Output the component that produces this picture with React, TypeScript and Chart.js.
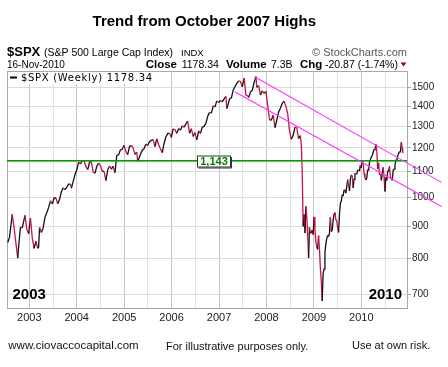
import React, { useEffect, useRef } from "react";
import { Chart, registerables } from "chart.js";

Chart.register(...registerables);

// ---- data (weekly / bi-weekly closes of $SPX) ----
const dates: string[] = [
  "2002-07-19","2002-08-02","2002-08-23","2002-09-06","2002-09-20","2002-10-04","2002-10-11","2002-10-25","2002-11-08","2002-11-29","2002-12-13","2002-12-27",
  "2003-01-10","2003-01-24","2003-02-07","2003-02-21","2003-03-07","2003-03-14","2003-03-21","2003-04-04","2003-04-17","2003-05-02","2003-05-16","2003-05-30","2003-06-13","2003-06-27","2003-07-11","2003-07-25","2003-08-08","2003-08-22","2003-09-05","2003-09-19","2003-10-03","2003-10-17","2003-10-31","2003-11-14","2003-11-21","2003-12-05","2003-12-19",
  "2004-01-02","2004-01-16","2004-01-30","2004-02-13","2004-02-27","2004-03-12","2004-03-26","2004-04-09","2004-04-23","2004-05-07","2004-05-21","2004-06-04","2004-06-18","2004-07-02","2004-07-16","2004-07-30","2004-08-13","2004-08-27","2004-09-10","2004-09-24","2004-10-08","2004-10-22","2004-11-05","2004-11-19","2004-12-03","2004-12-17","2004-12-31",
  "2005-01-14","2005-01-28","2005-02-11","2005-02-25","2005-03-11","2005-03-25","2005-04-08","2005-04-15","2005-05-06","2005-05-20","2005-06-03","2005-06-17","2005-07-01","2005-07-15","2005-07-29","2005-08-12","2005-08-26","2005-09-09","2005-09-23","2005-10-07","2005-10-21","2005-11-04","2005-11-18","2005-12-02","2005-12-16","2005-12-30",
  "2006-01-13","2006-01-27","2006-02-10","2006-02-24","2006-03-10","2006-03-24","2006-04-07","2006-04-21","2006-05-05","2006-05-19","2006-06-02","2006-06-16","2006-06-30","2006-07-14","2006-07-28","2006-08-11","2006-08-25","2006-09-08","2006-09-22","2006-10-06","2006-10-20","2006-11-03","2006-11-17","2006-12-01","2006-12-15","2006-12-29",
  "2007-01-12","2007-01-26","2007-02-09","2007-02-23","2007-03-02","2007-03-09","2007-03-23","2007-04-06","2007-04-20","2007-05-04","2007-05-18","2007-06-01","2007-06-15","2007-06-29","2007-07-13","2007-07-27","2007-08-10","2007-08-17","2007-08-31","2007-09-14","2007-09-28","2007-10-12","2007-10-19","2007-11-02","2007-11-16","2007-11-30","2007-12-14","2007-12-28",
  "2008-01-11","2008-01-25","2008-02-08","2008-02-22","2008-03-07","2008-03-21","2008-04-04","2008-04-18","2008-05-02","2008-05-16","2008-05-30","2008-06-13","2008-06-27","2008-07-11","2008-07-25","2008-08-08","2008-08-22","2008-09-05","2008-09-12","2008-09-19","2008-09-26","2008-10-03","2008-10-10","2008-10-17","2008-10-24","2008-10-31","2008-11-07","2008-11-14","2008-11-21","2008-11-28","2008-12-05","2008-12-12","2008-12-19","2008-12-26",
  "2009-01-02","2009-01-09","2009-01-16","2009-01-23","2009-01-30","2009-02-06","2009-02-13","2009-02-20","2009-02-27","2009-03-06","2009-03-13","2009-03-20","2009-03-27","2009-04-03","2009-04-09","2009-04-17","2009-04-24","2009-05-01","2009-05-08","2009-05-15","2009-05-22","2009-05-29","2009-06-05","2009-06-12","2009-06-19","2009-06-26","2009-07-02","2009-07-10","2009-07-17","2009-07-24","2009-07-31","2009-08-07","2009-08-14","2009-08-21","2009-08-28","2009-09-04","2009-09-11","2009-09-18","2009-09-25","2009-10-02","2009-10-09","2009-10-16","2009-10-23","2009-10-30","2009-11-06","2009-11-13","2009-11-20","2009-11-27","2009-12-04","2009-12-11","2009-12-18","2009-12-24","2009-12-31",
  "2010-01-08","2010-01-15","2010-01-22","2010-01-29","2010-02-05","2010-02-12","2010-02-19","2010-02-26","2010-03-05","2010-03-12","2010-03-19","2010-03-26","2010-04-01","2010-04-09","2010-04-16","2010-04-23","2010-04-30","2010-05-07","2010-05-14","2010-05-21","2010-05-28","2010-06-04","2010-06-11","2010-06-18","2010-06-25","2010-07-02","2010-07-09","2010-07-16","2010-07-23","2010-07-30","2010-08-06","2010-08-13","2010-08-20","2010-08-27","2010-09-03","2010-09-10","2010-09-17","2010-09-24","2010-10-01","2010-10-08","2010-10-15","2010-10-22","2010-10-29","2010-11-05","2010-11-12","2010-11-16",
];

const closes: number[] = [
  847,864,940,893,846,800,835,897,894,936,889,875,
  927,861,829,851,829,833,895,879,893,930,946,964,988,976,998,998,977,993,1021,1036,1029,1039,1050,1050,1035,1061,1088,
  1108,1139,1131,1146,1144,1120,1108,1139,1140,1098,1093,1122,1135,1125,1101,1101,1064,1107,1123,1110,1122,1095,1167,1170,1191,1194,1212,
  1184,1171,1206,1211,1200,1172,1182,1142,1171,1190,1196,1217,1211,1228,1234,1237,1206,1241,1215,1196,1179,1220,1249,1265,1267,1248,
  1287,1283,1266,1289,1281,1302,1295,1311,1325,1267,1288,1252,1270,1236,1278,1266,1295,1299,1314,1349,1368,1364,1401,1396,1427,1418,
  1430,1422,1438,1451,1387,1402,1437,1443,1484,1505,1522,1536,1533,1503,1552,1458,1453,1445,1474,1484,1527,1561,1500,1509,1458,1481,1467,1478,
  1401,1330,1331,1353,1293,1330,1370,1390,1414,1425,1400,1360,1278,1239,1257,1296,1292,1242,1252,1255,1213,1099,899,940,877,968,930,873,800,896,876,879,887,872,
  931,890,850,832,826,869,827,770,735,683,756,768,816,843,857,870,866,877,930,882,887,919,940,946,921,918,896,879,941,979,987,1010,1005,1026,1029,1016,1042,1068,1044,1025,1071,1087,1080,1036,1069,1093,1091,1091,1106,1106,1102,1126,1115,
  1145,1136,1092,1074,1066,1075,1109,1104,1139,1150,1160,1167,1179,1194,1192,1217,1187,1111,1136,1087,1089,1065,1092,1117,1076,1022,1078,1065,1102,1102,1121,1079,1071,1065,1104,1110,1125,1149,1146,1166,1176,1183,1183,1226,1199,1178.34,
];

const yTickValues = [700, 800, 900, 1000, 1100, 1200, 1300, 1400, 1500];
const xGridYears = [2003, 2003.5, 2004, 2004.5, 2005, 2005.5, 2006, 2006.5, 2007, 2007.5, 2008, 2008.5, 2009, 2009.5, 2010, 2010.5];
const supportLevel = 1143;
const supportLabelYear = 2006.88;
const upperTrendX = [2007.75, 2011.69];
const upperTrendY = [1560, 1057];
const lowerTrendX = [2007.34, 2011.69];
const lowerTrendY = [1474, 967];

const FONT = "'Liberation Sans', Arial, sans-serif";

function toYear(s: string): number {
  const [y, m, d] = s.split("-").map(Number);
  const a = Date.UTC(y, 0, 1);
  const b = Date.UTC(y + 1, 0, 1);
  return y + (Date.UTC(y, m - 1, d) - a) / (b - a);
}

const overlayPlugin = {
  id: "overlay",
  beforeDatasetsDraw(chart: any) {
    const { ctx, chartArea: ca } = chart;
    ctx.save();
    ctx.fillStyle = "#ffffff";
    ctx.fillRect(ca.left + 1, ca.top + 1, 150, 12);
    ctx.strokeStyle = "#a8a8a8";
    ctx.lineWidth = 1;
    ctx.strokeRect(ca.left + 0.5, ca.top + 0.5, ca.right - ca.left, ca.bottom - ca.top);
    ctx.restore();
  },
  afterDatasetsDraw(chart: any) {
    const { ctx, chartArea: ca, scales } = chart;
    const xs = scales.x;
    const ys = scales.y;
    ctx.save();
    // support line
    const gyRaw = ys.getPixelForValue(supportLevel);
    const gy = Math.round(gyRaw);
    ctx.fillStyle = "#0a960a";
    ctx.fillRect(ca.left, gy - 1, ca.right - ca.left, 1.6);
    // trend lines
    ctx.strokeStyle = "#ff33ff";
    ctx.lineWidth = 1.1;
    const drawTrend = (tx: number[], ty: number[]) => {
      ctx.beginPath();
      ctx.moveTo(xs.getPixelForValue(tx[0]), ys.getPixelForValue(ty[0]));
      ctx.lineTo(xs.getPixelForValue(tx[1]), ys.getPixelForValue(ty[1]));
      ctx.stroke();
    };
    drawTrend(upperTrendX, upperTrendY);
    drawTrend(lowerTrendX, lowerTrendY);
    // support label
    const lx = xs.getPixelForValue(supportLabelYear);
    const bw = 33, bh = 11;
    const bx = Math.round(lx - bw / 2) + 0.5;
    const by = Math.round(gy - bh / 2) - 0.5;
    ctx.fillStyle = "#ffffff";
    ctx.fillRect(bx, by, bw, bh);
    ctx.strokeStyle = "#333333";
    ctx.lineWidth = 1;
    ctx.strokeRect(bx, by + 0.5, bw, bh);
    ctx.beginPath();
    ctx.moveTo(bx + 1, by + bh + 1.5);
    ctx.lineTo(bx + bw + 1, by + bh + 1.5);
    ctx.lineTo(bx + bw + 1, by + 1.5);
    ctx.stroke();
    ctx.fillStyle = "#008000";
    ctx.font = `bold 11px ${FONT}`;
    ctx.textAlign = "center";
    ctx.textBaseline = "middle";
    ctx.fillText("1,143", bx + bw / 2, by + bh / 2 + 1);
    // legend
    ctx.strokeStyle = "#000";
    ctx.lineWidth = 2;
    ctx.beginPath();
    ctx.moveTo(ca.left + 3, ca.top + 6.5);
    ctx.lineTo(ca.left + 10, ca.top + 6.5);
    ctx.stroke();
    ctx.fillStyle = "#000";
    ctx.textAlign = "left";
    ctx.textBaseline = "alphabetic";
    ctx.font = `10px 'DejaVu Sans', sans-serif`;
    (ctx as any).letterSpacing = "0.7px";
    ctx.fillText("$SPX (Weekly) 1178.34", ca.left + 14, ca.top + 10);
    (ctx as any).letterSpacing = "0px";
    // year marks in plot
    ctx.font = `bold 15px ${FONT}`;
    ctx.fillStyle = "#000";
    ctx.textAlign = "left";
    ctx.fillText("2003", ca.left + 5.5, ca.bottom - 9);
    ctx.textAlign = "right";
    ctx.fillText("2010", ca.right - 5, ca.bottom - 9);
    ctx.restore();
  },
  afterDraw(chart: any) {
    const { ctx } = chart;
    ctx.save();
    ctx.fillStyle = "#000";
    ctx.textBaseline = "alphabetic";
    // title
    ctx.textAlign = "center";
    ctx.font = `bold 15px ${FONT}`;
    ctx.fillText("Trend from October 2007 Highs", 204.3, 26);
    // header line 1
    ctx.textAlign = "left";
    ctx.font = `bold 13px ${FONT}`;
    ctx.fillText("$SPX", 7, 55.5);
    ctx.font = `10.5px ${FONT}`;
    ctx.fillText("(S&P 500 Large Cap Index)", 44, 55.5);
    ctx.font = `9.5px ${FONT}`;
    ctx.fillText("INDX", 181, 55.5);
    ctx.textAlign = "right";
    ctx.fillStyle = "#555";
    ctx.font = `11px ${FONT}`;
    ctx.fillText("\u00A9 StockCharts.com", 407, 55.5);
    // header line 2
    ctx.fillStyle = "#000";
    ctx.textAlign = "left";
    ctx.font = `10px ${FONT}`;
    ctx.fillText("16-Nov-2010", 7, 67.5);
    ctx.font = `bold 11.5px ${FONT}`;
    ctx.fillText("Close", 145.7, 67.5);
    ctx.fillText("Volume", 226, 67.5);
    ctx.fillText("Chg", 300, 67.5);
    ctx.font = `10.5px ${FONT}`;
    ctx.fillText("1178.34", 181.7, 67.5);
    ctx.fillText("7.3B", 271, 67.5);
    ctx.fillText("-20.87 (-1.74%)", 325, 67.5);
    ctx.fillStyle = "#8b0a2a";
    ctx.beginPath();
    ctx.moveTo(400.5, 62.5);
    ctx.lineTo(406.5, 62.5);
    ctx.lineTo(403.5, 66.5);
    ctx.closePath();
    ctx.fill();
    // footer
    ctx.fillStyle = "#111";
    ctx.font = `11.5px ${FONT}`;
    ctx.fillText("www.ciovaccocapital.com", 8.3, 349);
    ctx.font = `11px ${FONT}`;
    ctx.fillText("For illustrative purposes only.", 166, 350);
    ctx.fillText("Use at own risk.", 352, 349);
    ctx.restore();
  },
};

export default function App() {
  const canvasRef = useRef<HTMLCanvasElement | null>(null);

  useEffect(() => {
    if (!canvasRef.current) return;
    const points = dates.map((d, i) => ({ x: toYear(d), y: closes[i] }));
    const chart = new Chart(canvasRef.current, {
      type: "line",
      data: {
        datasets: [
          {
            label: "$SPX (Weekly)",
            data: points,
            borderColor: "#000",
            borderWidth: 1.3,
            pointRadius: 0,
            tension: 0,
            segment: {
              borderColor: (c: any) => (c.p1.parsed.y < c.p0.parsed.y ? "#cc1144" : "#111111"),
            },
          },
        ],
      },
      options: {
        responsive: false,
        animation: false,
        events: [],
        layout: { padding: { left: 7, top: 71, right: 0, bottom: 0 } },
        plugins: {
          legend: { display: false },
          tooltip: { enabled: false },
          title: { display: false },
        },
        scales: {
          x: {
            type: "linear",
            min: 2002.53,
            max: 2010.963,
            afterBuildTicks: (axis: any) => {
              axis.ticks = xGridYears.map((v) => ({ value: v }));
            },
            afterFit: (axis: any) => {
              axis.height = 59;
            },
            grid: {
              color: (c: any) =>
                c.tick && Number.isInteger(c.tick.value) ? "#c6c6c6" : "#e2e2e2",
              drawTicks: false,
              lineWidth: 1,
            },
            border: { display: false },
            ticks: {
              autoSkip: false,
              maxRotation: 0,
              padding: 3,
              color: "#222",
              font: { family: FONT, size: 11 },
              callback: (v: any) => (Number.isInteger(v) ? String(v) : ""),
            },
          },
          y: {
            type: "logarithmic",
            position: "right",
            min: 665.6,
            max: 1593,
            afterBuildTicks: (axis: any) => {
              axis.ticks = yTickValues.map((v) => ({ value: v }));
            },
            afterFit: (axis: any) => {
              axis.width = 41;
            },
            grid: {
              color: "#dcdcdc",
              tickColor: "#a8a8a8",
              tickLength: 4,
              lineWidth: 1,
            },
            border: { display: false },
            ticks: {
              autoSkip: false,
              padding: 1,
              color: "#222",
              font: { family: FONT, size: 10 },
              callback: (v: any) => String(v),
            },
          },
        },
      },
      plugins: [overlayPlugin],
    });
    return () => chart.destroy();
  }, []);

  return (
    <div style={{ position: "absolute", left: 0, top: 0, width: 448, height: 367, background: "#fff" }}>
      <canvas ref={canvasRef} width={448} height={367} style={{ display: "block" }} />
    </div>
  );
}
